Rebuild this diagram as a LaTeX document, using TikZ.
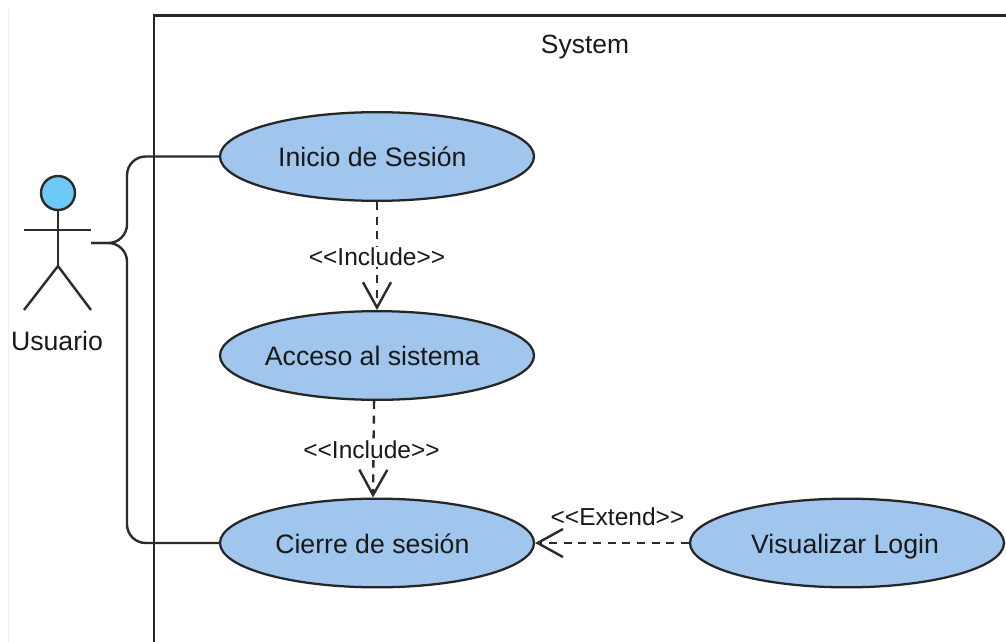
\documentclass[tikz,border=0pt]{standalone}
\usepackage{fontspec}
\setmainfont{Liberation Sans}
\usetikzlibrary{shapes.geometric,arrows.meta}
\definecolor{ucfill}{HTML}{A0C6EE}
\definecolor{headfill}{HTML}{6DC9F5}
\definecolor{inkline}{HTML}{2B2B2B}
\tikzset{
  usecase/.style={ellipse,draw=black!85,line width=1.7pt,fill=ucfill,minimum width=235.5pt,minimum height=66.5pt,inner ysep=0pt,inner xsep=-15pt,text height=15.5pt,text depth=0pt,font=\fontsize{20}{24}\selectfont,text=black!90},
  dep/.style={dash pattern=on 6pt off 5pt,line width=1.8pt,draw=inkline,-{Straight Barb[length=19pt,width=21pt,line width=1.8pt]}},
  deplabel/.style={fill=white,inner sep=1pt,font=\fontsize{18.4}{22}\selectfont,text=black!90},
  assoc/.style={line width=1.8pt,draw=inkline,rounded corners=14pt},
  stick/.style={line width=1.8pt,draw=inkline}
}
\begin{document}
\begin{tikzpicture}[x=0.75pt,y=-0.75pt]
\useasboundingbox (0,0) rectangle (1006,642);
\fill[white] (0,0) rectangle (1006,642);
\draw[line width=1pt,draw=black!6] (8.5,9) -- (8.5,642);
\draw[line width=1.8pt,draw=black!85] (1006,15.5) -- (154,15.5) -- (154,642);
\node[font=\fontsize{19.8}{22}\selectfont,text=black!90] (system) at (585,47) {System};

\node[usecase] (inicio) at (377,156.5) {Inicio de Sesión\kern7pt};
\node[usecase] (acceso) at (377,355.5) {Acceso al sistema\kern7pt};
\node[usecase] (cierre) at (377,543) {Cierre de sesión\kern7pt};
\node[usecase] (login) at (847,543) {Visualizar Login\kern3pt};

% actor
\node[circle,draw=inkline,line width=1.8pt,fill=headfill,minimum size=25.5pt,inner sep=0pt] (head) at (58,193) {};
\coordinate (hip) at (58,266);
\coordinate (armL) at (24,230);
\coordinate (armR) at (91,230);
\coordinate (legL) at (24,310);
\coordinate (legR) at (91,310);
\draw[stick] (head.south) -- (hip);
\draw[stick] (armL) -- (armR);
\draw[stick] (legL) -- (hip) -- (legR);
\node[font=\fontsize{20}{24}\selectfont,text=black!90] (usuario) at (57,341) {Usuario};

% associations
\coordinate (start) at (91,243);
\coordinate (fork) at (127,243);
\draw[assoc] (start) -- (fork) -- (fork |- inicio.west) -- (inicio.west);
\draw[assoc] (start) -- (fork) -- (fork |- cierre.west) -- (cierre.west);

% dependencies
\draw[dep] (inicio.south) -- (acceso.north) node[deplabel,pos=0.51] (inc1) {<{}<Include>{}>};
\draw[dep] ([xshift=-2.2pt]acceso.south) -- ([xshift=-3pt]cierre.north) node[deplabel,pos=0.5,xshift=-1.5pt] (inc2) {<{}<Include>{}>};
\draw[dep] (login.west) -- (cierre.east);
\node[font=\fontsize{18.4}{22}\selectfont,text=black!90] (ext) at (617.5,517) {<{}<Extend>{}>};
\end{tikzpicture}
\end{document}
